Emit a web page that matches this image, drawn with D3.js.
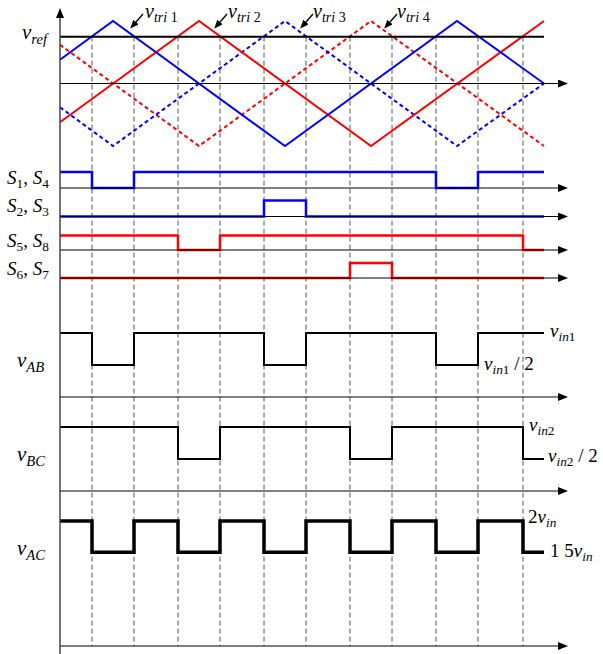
<!DOCTYPE html>
<html>
<head>
<meta charset="utf-8">
<script src="https://cdn.jsdelivr.net/npm/d3@7"></script>
<style>
body { margin: 0; background: #fff; }
text { font-family: "Liberation Serif", "DejaVu Serif", serif; fill: #000; }
</style>
</head>
<body>
<div id="chart"></div>
<script>
// carriers: vertices (time, value)
var tri1 = [[0, 0.38], [53, 1], [225, -1], [397, 1], [484, 0]];
var tri2 = [[0, -0.62], [139, 1], [311, -1], [484, 1]];
var tri3 = [[0, -0.38], [53, -1], [225, 1], [397, -1], [484, 0]];
var tri4 = [[0, 0.62], [139, -1], [311, 1], [484, -1]];
var vref = 0.75;

// switching instants (dashed lines)
var edges = [32, 74, 118, 160, 204, 246, 290, 332, 376, 418, 463];

// gate signals
var s14 = [[0, 1], [32, 0], [74, 1], [376, 0], [418, 1], [484, 1]];
var s23 = [[0, 0], [204, 1], [246, 0], [484, 0]];
var s58 = [[0, 1], [118, 0], [160, 1], [463, 0], [484, 0]];
var s67 = [[0, 0], [290, 1], [332, 0], [484, 0]];

// output voltages
var vAB = [[0, 1], [32, 0.5], [74, 1], [204, 0.5], [246, 1], [376, 0.5], [418, 1], [484, 1]];
var vBC = [[0, 1], [118, 0.5], [160, 1], [290, 0.5], [332, 1], [463, 0.5], [484, 0.5]];
var vAC = [[0, 2], [32, 1.5], [74, 2], [118, 1.5], [160, 2], [204, 1.5], [246, 2], [290, 1.5], [332, 2], [376, 1.5], [418, 2], [463, 1.5], [484, 1.5]];

var w = 603, h = 654;
var azul = "#0000ff", rojo = "#ff0000";

var svg = d3.select("#chart").append("svg")
	.attr("width", w)
	.attr("height", h);

var defs = svg.append("defs");
defs.append("marker")
	.attr("id", "flecha")
	.attr("viewBox", "0 0 10 8")
	.attr("refX", 0).attr("refY", 4)
	.attr("markerWidth", 10).attr("markerHeight", 8)
	.attr("markerUnits", "userSpaceOnUse")
	.attr("orient", "auto")
	.append("path").attr("d", "M0,0 L10,4 L0,8 Z").attr("fill", "#000");
defs.append("marker")
	.attr("id", "flechaChica")
	.attr("viewBox", "0 0 10 8")
	.attr("refX", 0).attr("refY", 4)
	.attr("markerWidth", 9).attr("markerHeight", 7)
	.attr("markerUnits", "userSpaceOnUse")
	.attr("orient", "auto")
	.append("path").attr("d", "M0,0 L10,4 L0,8 Z").attr("fill", "#000");

var x = d3.scaleLinear().domain([0, 484]).range([60, 544]);
var yTri = d3.scaleLinear().domain([-1, 1]).range([146, 21]);

// dashed verticals
svg.selectAll(".guia")
	.data(edges)
	.enter()
	.append("line")
	.attr("x1", function (d) { return x(d); })
	.attr("x2", function (d) { return x(d); })
	.attr("y1", yTri(vref))
	.attr("y2", 646)
	.attr("stroke", "#555")
	.attr("stroke-width", 1)
	.attr("stroke-dasharray", "5,3");

function eje(y) {
	svg.append("line")
		.attr("x1", 60).attr("x2", 558)
		.attr("y1", y).attr("y2", y)
		.attr("stroke", "#000").attr("stroke-width", 1)
		.attr("marker-end", "url(#flecha)");
}

// carrier panel
var lineaTri = d3.line()
	.x(function (d) { return x(d[0]); })
	.y(function (d) { return yTri(d[1]); });

var portadoras = [
	{ d: tri4, c: rojo, dash: "4,3" },
	{ d: tri3, c: azul, dash: "4,3" },
	{ d: tri2, c: rojo, dash: null },
	{ d: tri1, c: azul, dash: null }
];
portadoras.forEach(function (p) {
	svg.append("path")
		.attr("d", lineaTri(p.d))
		.attr("fill", "none")
		.attr("stroke", p.c)
		.attr("stroke-width", 2)
		.attr("stroke-dasharray", p.dash);
});
eje(yTri(0));
svg.append("line")
	.attr("x1", 60).attr("x2", 544)
	.attr("y1", yTri(vref)).attr("y2", yTri(vref))
	.attr("stroke", "#000").attr("stroke-width", 2);

// gate signal rows
var filas = [
	{ d: s14, base: 188, alto: 172, c: azul },
	{ d: s23, base: 216.5, alto: 200.5, c: azul },
	{ d: s58, base: 250, alto: 235.5, c: rojo },
	{ d: s67, base: 278, alto: 263, c: rojo }
];
filas.forEach(function (f) {
	var y = d3.scaleLinear().domain([0, 1]).range([f.base, f.alto]);
	var linea = d3.line().curve(d3.curveStepAfter)
		.x(function (d) { return x(d[0]); })
		.y(function (d) { return y(d[1]); });
	svg.append("path")
		.attr("d", linea(f.d))
		.attr("fill", "none")
		.attr("stroke", f.c)
		.attr("stroke-width", 2.5);
	eje(f.base);
});

// output voltage rows
var salidas = [
	{ d: vAB, dom: [0, 1], base: 397, alto: 333, sw: 2 },
	{ d: vBC, dom: [0, 1], base: 491, alto: 427, sw: 2 },
	{ d: vAC, dom: [0, 2], base: 646, alto: 521, sw: 3.5 }
];
salidas.forEach(function (s) {
	var y = d3.scaleLinear().domain(s.dom).range([s.base, s.alto]);
	var linea = d3.line().curve(d3.curveStepAfter)
		.x(function (d) { return x(d[0]); })
		.y(function (d) { return y(d[1]); });
	svg.append("path")
		.attr("d", linea(s.d))
		.attr("fill", "none")
		.attr("stroke", "#000")
		.attr("stroke-width", s.sw);
	eje(s.base);
});

// vertical axis
svg.append("line")
	.attr("x1", 60).attr("x2", 60)
	.attr("y1", 654).attr("y2", 18)
	.attr("stroke", "#444").attr("stroke-width", 1.5)
	.attr("marker-end", "url(#flecha)");

function etiqueta(px, py, partes, size) {
	var t = svg.append("text").attr("x", px).attr("y", py).attr("font-size", size);
	partes.forEach(function (p) {
		var ts = t.append("tspan").text(p.t);
		if (p.it) ts.attr("font-style", "italic");
		if (p.sub) ts.attr("font-size", size * 0.7).attr("dy", p.dy);
		else if (p.dy) ts.attr("dy", p.dy);
	});
}

etiqueta(22, 39, [{ t: "v", it: 1 }, { t: "ref", it: 1, sub: 1, dy: 5 }], 21);
etiqueta(7, 184, [{ t: "S", it: 1 }, { t: "1", sub: 1, dy: 4 }, { t: ", ", dy: -4 }, { t: "S", it: 1 }, { t: "4", sub: 1, dy: 4 }], 19);
etiqueta(7, 212, [{ t: "S", it: 1 }, { t: "2", sub: 1, dy: 4 }, { t: ", ", dy: -4 }, { t: "S", it: 1 }, { t: "3", sub: 1, dy: 4 }], 19);
etiqueta(7, 247, [{ t: "S", it: 1 }, { t: "5", sub: 1, dy: 4 }, { t: ", ", dy: -4 }, { t: "S", it: 1 }, { t: "8", sub: 1, dy: 4 }], 19);
etiqueta(7, 275, [{ t: "S", it: 1 }, { t: "6", sub: 1, dy: 4 }, { t: ", ", dy: -4 }, { t: "S", it: 1 }, { t: "7", sub: 1, dy: 4 }], 19);
etiqueta(17, 367, [{ t: "v", it: 1 }, { t: "AB", it: 1, sub: 1, dy: 5 }], 21);
etiqueta(17, 461, [{ t: "v", it: 1 }, { t: "BC", it: 1, sub: 1, dy: 5 }], 21);
etiqueta(17, 555, [{ t: "v", it: 1 }, { t: "AC", it: 1, sub: 1, dy: 5 }], 21);

etiqueta(550, 337, [{ t: "v", it: 1 }, { t: "in", it: 1, sub: 1, dy: 4 }, { t: "1", sub: 1 }], 19);
etiqueta(484, 370, [{ t: "v", it: 1 }, { t: "in", it: 1, sub: 1, dy: 4 }, { t: "1", sub: 1 }, { t: " / 2", dy: -4 }], 19);
etiqueta(529, 431, [{ t: "v", it: 1 }, { t: "in", it: 1, sub: 1, dy: 4 }, { t: "2", sub: 1 }], 19);
etiqueta(548, 462, [{ t: "v", it: 1 }, { t: "in", it: 1, sub: 1, dy: 4 }, { t: "2", sub: 1 }, { t: " / 2", dy: -4 }], 19);
etiqueta(528, 523, [{ t: "2" }, { t: "v", it: 1 }, { t: "in", it: 1, sub: 1, dy: 4 }], 19);
etiqueta(550, 557, [{ t: "1 5" }, { t: "v", it: 1 }, { t: "in", it: 1, sub: 1, dy: 4 }], 19);

// carrier name tags with arrows
var tags = [
	{ n: "1", tx: 145, tip: 131 },
	{ n: "2", tx: 228, tip: 215 },
	{ n: "3", tx: 313, tip: 301 },
	{ n: "4", tx: 397, tip: 385 }
];
tags.forEach(function (t) {
	etiqueta(t.tx, 18, [{ t: "v", it: 1 }, { t: "tri", it: 1, sub: 1, dy: 4 }, { t: " " + t.n, sub: 1 }], 20);
	svg.append("line")
		.attr("x1", t.tip + 12).attr("y1", 14)
		.attr("x2", t.tip + 5).attr("y2", 22)
		.attr("stroke", "#000").attr("stroke-width", 1.3)
		.attr("marker-end", "url(#flechaChica)");
});
</script>
</body>
</html>
